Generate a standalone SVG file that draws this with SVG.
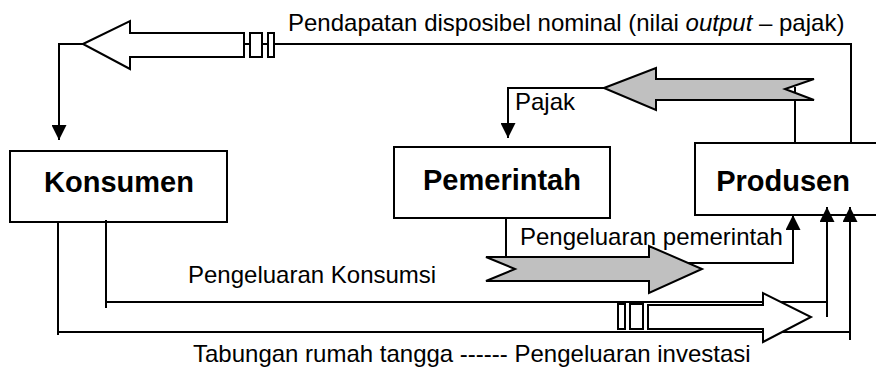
<svg xmlns="http://www.w3.org/2000/svg" width="876" height="369" viewBox="0 0 876 369">
  <style>
    .ln { fill: none; stroke: #000; stroke-width: 2; }
    .box { fill: #fff; stroke: #000; stroke-width: 2; }
    .big { fill: #fff; stroke: #000; stroke-width: 2; stroke-linejoin: miter; }
    .grey { fill: #c0c0c0; stroke: #000; stroke-width: 2; stroke-linejoin: miter; }
    .lbl { font-family: "Liberation Sans", Arial, sans-serif; font-size: 24px; fill: #000; }
    .name { font-family: "Liberation Sans", Arial, sans-serif; font-size: 29px; font-weight: bold; fill: #000; text-anchor: middle; }
  </style>
  <defs>
    <marker id="head" viewBox="0 0 10 10" refX="10" refY="5" markerWidth="7.5" markerHeight="7.5" markerUnits="strokeWidth" orient="auto">
      <path d="M0,0 L10,5 L0,10 Z" fill="#000"/>
    </marker>
  </defs>

  <!-- nodes -->
  <g id="konsumen">
    <rect class="box" x="10" y="151" width="217" height="71"/>
    <text class="name" x="119" y="192">Konsumen</text>
  </g>
  <g id="pemerintah">
    <rect class="box" x="394" y="147" width="216" height="71"/>
    <text class="name" x="502" y="190">Pemerintah</text>
  </g>
  <g id="produsen">
    <rect class="box" x="695" y="143" width="190" height="72"/>
    <text class="name" x="783" y="191">Produsen</text>
  </g>

  <!-- connectors -->
  <g id="connectors">
    <!-- disposable income: producer back to consumer -->
    <polyline class="ln" points="851,143 851,44 274,44"/>
    <line class="ln" x1="244" y1="44" x2="250" y2="44"/>
    <line class="ln" x1="262" y1="44" x2="268" y2="44"/>
    <rect class="big" x="250" y="33" width="12" height="24"/>
    <rect class="big" x="268" y="33" width="6" height="24"/>
    <polyline class="ln" points="83,44 59,44 59,140" marker-end="url(#head)"/>
    <polygon class="big" points="83,44 130,21 130,33 244,33 244,57 130,57 130,69"/>

    <!-- taxes: producer to government -->
    <line class="ln" x1="795" y1="143" x2="795" y2="87"/>
    <polyline class="ln" points="604,88 508,88 508,138" marker-end="url(#head)"/>
    <polygon class="grey" points="604,88 656,68 656,79 814,79 785,89 814,100 656,100 656,110"/>

    <!-- government spending -->
    <line class="ln" x1="506" y1="218" x2="506" y2="257"/>
    <polyline class="ln" points="688,263 793,263 793,215" marker-end="url(#head)"/>
    <polygon class="grey" points="486,257 649,257 649,246 702,269 649,293 649,281 486,281 515,269"/>

    <!-- consumption spending -->
    <line class="ln" x1="106" y1="220" x2="106" y2="308"/>
    <line class="ln" x1="106" y1="302" x2="828" y2="302"/>
    <line class="ln" x1="827" y1="317" x2="827" y2="207" marker-end="url(#head)"/>

    <!-- household saving to investment -->
    <line class="ln" x1="58" y1="222" x2="58" y2="335"/>
    <line class="ln" x1="58" y1="332" x2="851" y2="332"/>
    <line class="ln" x1="850" y1="340" x2="850" y2="207" marker-end="url(#head)"/>
    <rect class="big" x="618" y="304" width="7" height="25"/>
    <rect class="big" x="630" y="304" width="13" height="25"/>
    <polygon class="big" points="648,305 763,305 763,293 811,317 763,342 763,329 648,329"/>
  </g>

  <!-- flow labels -->
  <text class="lbl" x="288" y="31">Pendapatan disposibel nominal (nilai <tspan font-style="italic">output</tspan> – pajak)</text>
  <text class="lbl" x="515" y="110">Pajak</text>
  <text class="lbl" x="520" y="245">Pengeluaran pemerintah</text>
  <text class="lbl" x="188" y="283">Pengeluaran Konsumsi</text>
  <text class="lbl" x="193" y="362">Tabungan rumah tangga ------ Pengeluaran investasi</text>
</svg>
